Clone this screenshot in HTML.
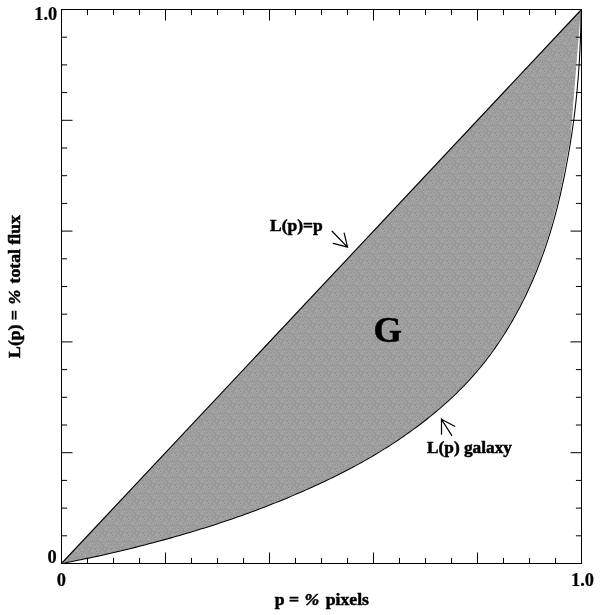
<!DOCTYPE html>
<html><head><meta charset="utf-8"><style>
html,body{margin:0;padding:0;background:#fff;}
svg{display:block;filter:grayscale(1);}
text{font-family:"Liberation Serif",serif;font-weight:bold;fill:#000;stroke:#000;stroke-width:0.5px;}
text.n{stroke-width:0.2px;}
</style></head><body>
<svg width="600" height="615" viewBox="0 0 600 615">
<defs><pattern id="dz" patternUnits="userSpaceOnUse" width="16" height="16"><rect width="16" height="16" fill="#9e9e9e"/><rect x="0" y="0" width="1" height="1" fill="#acacac"/><rect x="1" y="0" width="1" height="1" fill="#8c8c8c"/><rect x="2" y="0" width="1" height="1" fill="#a1a1a1"/><rect x="3" y="0" width="1" height="1" fill="#9a9a9a"/><rect x="4" y="0" width="1" height="1" fill="#9b9b9b"/><rect x="5" y="0" width="1" height="1" fill="#9c9c9c"/><rect x="6" y="0" width="1" height="1" fill="#909090"/><rect x="7" y="0" width="1" height="1" fill="#9c9c9c"/><rect x="8" y="0" width="1" height="1" fill="#989898"/><rect x="9" y="0" width="1" height="1" fill="#b5b5b5"/><rect x="10" y="0" width="1" height="1" fill="#9f9f9f"/><rect x="11" y="0" width="1" height="1" fill="#9b9b9b"/><rect x="12" y="0" width="1" height="1" fill="#9c9c9c"/><rect x="13" y="0" width="1" height="1" fill="#999999"/><rect x="14" y="0" width="1" height="1" fill="#969696"/><rect x="15" y="0" width="1" height="1" fill="#9b9b9b"/><rect x="0" y="1" width="1" height="1" fill="#a1a1a1"/><rect x="1" y="1" width="1" height="1" fill="#9c9c9c"/><rect x="2" y="1" width="1" height="1" fill="#a5a5a5"/><rect x="3" y="1" width="1" height="1" fill="#9c9c9c"/><rect x="5" y="1" width="1" height="1" fill="#a9a9a9"/><rect x="6" y="1" width="1" height="1" fill="#a2a2a2"/><rect x="7" y="1" width="1" height="1" fill="#9a9a9a"/><rect x="8" y="1" width="1" height="1" fill="#9d9d9d"/><rect x="9" y="1" width="1" height="1" fill="#a2a2a2"/><rect x="10" y="1" width="1" height="1" fill="#ababab"/><rect x="11" y="1" width="1" height="1" fill="#9c9c9c"/><rect x="12" y="1" width="1" height="1" fill="#9c9c9c"/><rect x="13" y="1" width="1" height="1" fill="#a5a5a5"/><rect x="14" y="1" width="1" height="1" fill="#989898"/><rect x="15" y="1" width="1" height="1" fill="#9c9c9c"/><rect x="0" y="2" width="1" height="1" fill="#a4a4a4"/><rect x="1" y="2" width="1" height="1" fill="#a2a2a2"/><rect x="2" y="2" width="1" height="1" fill="#9f9f9f"/><rect x="3" y="2" width="1" height="1" fill="#a3a3a3"/><rect x="4" y="2" width="1" height="1" fill="#8a8a8a"/><rect x="5" y="2" width="1" height="1" fill="#a5a5a5"/><rect x="6" y="2" width="1" height="1" fill="#979797"/><rect x="7" y="2" width="1" height="1" fill="#929292"/><rect x="8" y="2" width="1" height="1" fill="#a0a0a0"/><rect x="9" y="2" width="1" height="1" fill="#a3a3a3"/><rect x="10" y="2" width="1" height="1" fill="#9b9b9b"/><rect x="11" y="2" width="1" height="1" fill="#969696"/><rect x="13" y="2" width="1" height="1" fill="#9d9d9d"/><rect x="14" y="2" width="1" height="1" fill="#a8a8a8"/><rect x="15" y="2" width="1" height="1" fill="#a3a3a3"/><rect x="0" y="3" width="1" height="1" fill="#9f9f9f"/><rect x="1" y="3" width="1" height="1" fill="#a6a6a6"/><rect x="2" y="3" width="1" height="1" fill="#9c9c9c"/><rect x="3" y="3" width="1" height="1" fill="#979797"/><rect x="4" y="3" width="1" height="1" fill="#a2a2a2"/><rect x="5" y="3" width="1" height="1" fill="#a2a2a2"/><rect x="6" y="3" width="1" height="1" fill="#9c9c9c"/><rect x="7" y="3" width="1" height="1" fill="#989898"/><rect x="8" y="3" width="1" height="1" fill="#9f9f9f"/><rect x="9" y="3" width="1" height="1" fill="#8c8c8c"/><rect x="10" y="3" width="1" height="1" fill="#a3a3a3"/><rect x="11" y="3" width="1" height="1" fill="#a1a1a1"/><rect x="12" y="3" width="1" height="1" fill="#929292"/><rect x="14" y="3" width="1" height="1" fill="#979797"/><rect x="15" y="3" width="1" height="1" fill="#a3a3a3"/><rect x="0" y="4" width="1" height="1" fill="#909090"/><rect x="1" y="4" width="1" height="1" fill="#979797"/><rect x="2" y="4" width="1" height="1" fill="#a3a3a3"/><rect x="3" y="4" width="1" height="1" fill="#a6a6a6"/><rect x="4" y="4" width="1" height="1" fill="#8f8f8f"/><rect x="5" y="4" width="1" height="1" fill="#9a9a9a"/><rect x="6" y="4" width="1" height="1" fill="#a0a0a0"/><rect x="7" y="4" width="1" height="1" fill="#9a9a9a"/><rect x="8" y="4" width="1" height="1" fill="#a9a9a9"/><rect x="9" y="4" width="1" height="1" fill="#969696"/><rect x="10" y="4" width="1" height="1" fill="#a0a0a0"/><rect x="11" y="4" width="1" height="1" fill="#979797"/><rect x="12" y="4" width="1" height="1" fill="#a8a8a8"/><rect x="14" y="4" width="1" height="1" fill="#9b9b9b"/><rect x="15" y="4" width="1" height="1" fill="#929292"/><rect x="0" y="5" width="1" height="1" fill="#aaaaaa"/><rect x="1" y="5" width="1" height="1" fill="#a3a3a3"/><rect x="2" y="5" width="1" height="1" fill="#a3a3a3"/><rect x="3" y="5" width="1" height="1" fill="#a6a6a6"/><rect x="4" y="5" width="1" height="1" fill="#a0a0a0"/><rect x="5" y="5" width="1" height="1" fill="#999999"/><rect x="6" y="5" width="1" height="1" fill="#989898"/><rect x="7" y="5" width="1" height="1" fill="#989898"/><rect x="8" y="5" width="1" height="1" fill="#a7a7a7"/><rect x="9" y="5" width="1" height="1" fill="#949494"/><rect x="10" y="5" width="1" height="1" fill="#9a9a9a"/><rect x="11" y="5" width="1" height="1" fill="#9c9c9c"/><rect x="12" y="5" width="1" height="1" fill="#9f9f9f"/><rect x="13" y="5" width="1" height="1" fill="#a2a2a2"/><rect x="14" y="5" width="1" height="1" fill="#959595"/><rect x="15" y="5" width="1" height="1" fill="#929292"/><rect x="1" y="6" width="1" height="1" fill="#a6a6a6"/><rect x="2" y="6" width="1" height="1" fill="#a3a3a3"/><rect x="3" y="6" width="1" height="1" fill="#9f9f9f"/><rect x="4" y="6" width="1" height="1" fill="#9c9c9c"/><rect x="5" y="6" width="1" height="1" fill="#a0a0a0"/><rect x="6" y="6" width="1" height="1" fill="#9c9c9c"/><rect x="7" y="6" width="1" height="1" fill="#a4a4a4"/><rect x="8" y="6" width="1" height="1" fill="#989898"/><rect x="9" y="6" width="1" height="1" fill="#9f9f9f"/><rect x="10" y="6" width="1" height="1" fill="#9d9d9d"/><rect x="11" y="6" width="1" height="1" fill="#a2a2a2"/><rect x="12" y="6" width="1" height="1" fill="#9f9f9f"/><rect x="13" y="6" width="1" height="1" fill="#b0b0b0"/><rect x="14" y="6" width="1" height="1" fill="#a8a8a8"/><rect x="15" y="6" width="1" height="1" fill="#a8a8a8"/><rect x="0" y="7" width="1" height="1" fill="#909090"/><rect x="1" y="7" width="1" height="1" fill="#9b9b9b"/><rect x="2" y="7" width="1" height="1" fill="#9a9a9a"/><rect x="3" y="7" width="1" height="1" fill="#a2a2a2"/><rect x="4" y="7" width="1" height="1" fill="#8e8e8e"/><rect x="5" y="7" width="1" height="1" fill="#a6a6a6"/><rect x="6" y="7" width="1" height="1" fill="#a5a5a5"/><rect x="7" y="7" width="1" height="1" fill="#959595"/><rect x="8" y="7" width="1" height="1" fill="#979797"/><rect x="9" y="7" width="1" height="1" fill="#989898"/><rect x="11" y="7" width="1" height="1" fill="#a2a2a2"/><rect x="12" y="7" width="1" height="1" fill="#acacac"/><rect x="13" y="7" width="1" height="1" fill="#9c9c9c"/><rect x="14" y="7" width="1" height="1" fill="#a3a3a3"/><rect x="15" y="7" width="1" height="1" fill="#9f9f9f"/><rect x="0" y="8" width="1" height="1" fill="#aaaaaa"/><rect x="1" y="8" width="1" height="1" fill="#a3a3a3"/><rect x="2" y="8" width="1" height="1" fill="#a7a7a7"/><rect x="3" y="8" width="1" height="1" fill="#969696"/><rect x="4" y="8" width="1" height="1" fill="#9d9d9d"/><rect x="5" y="8" width="1" height="1" fill="#989898"/><rect x="6" y="8" width="1" height="1" fill="#a8a8a8"/><rect x="7" y="8" width="1" height="1" fill="#a2a2a2"/><rect x="8" y="8" width="1" height="1" fill="#9c9c9c"/><rect x="9" y="8" width="1" height="1" fill="#9b9b9b"/><rect x="10" y="8" width="1" height="1" fill="#a1a1a1"/><rect x="11" y="8" width="1" height="1" fill="#999999"/><rect x="12" y="8" width="1" height="1" fill="#979797"/><rect x="13" y="8" width="1" height="1" fill="#a1a1a1"/><rect x="14" y="8" width="1" height="1" fill="#afafaf"/><rect x="15" y="8" width="1" height="1" fill="#9c9c9c"/><rect x="0" y="9" width="1" height="1" fill="#9a9a9a"/><rect x="1" y="9" width="1" height="1" fill="#969696"/><rect x="2" y="9" width="1" height="1" fill="#959595"/><rect x="3" y="9" width="1" height="1" fill="#a2a2a2"/><rect x="4" y="9" width="1" height="1" fill="#a4a4a4"/><rect x="6" y="9" width="1" height="1" fill="#a0a0a0"/><rect x="7" y="9" width="1" height="1" fill="#9f9f9f"/><rect x="8" y="9" width="1" height="1" fill="#9f9f9f"/><rect x="9" y="9" width="1" height="1" fill="#939393"/><rect x="10" y="9" width="1" height="1" fill="#9b9b9b"/><rect x="11" y="9" width="1" height="1" fill="#9f9f9f"/><rect x="12" y="9" width="1" height="1" fill="#989898"/><rect x="13" y="9" width="1" height="1" fill="#9b9b9b"/><rect x="14" y="9" width="1" height="1" fill="#989898"/><rect x="15" y="9" width="1" height="1" fill="#9c9c9c"/><rect x="0" y="10" width="1" height="1" fill="#a4a4a4"/><rect x="1" y="10" width="1" height="1" fill="#9b9b9b"/><rect x="2" y="10" width="1" height="1" fill="#9d9d9d"/><rect x="3" y="10" width="1" height="1" fill="#a4a4a4"/><rect x="4" y="10" width="1" height="1" fill="#a2a2a2"/><rect x="5" y="10" width="1" height="1" fill="#aaaaaa"/><rect x="6" y="10" width="1" height="1" fill="#8f8f8f"/><rect x="7" y="10" width="1" height="1" fill="#a4a4a4"/><rect x="8" y="10" width="1" height="1" fill="#9a9a9a"/><rect x="9" y="10" width="1" height="1" fill="#9f9f9f"/><rect x="10" y="10" width="1" height="1" fill="#a4a4a4"/><rect x="11" y="10" width="1" height="1" fill="#a5a5a5"/><rect x="12" y="10" width="1" height="1" fill="#a5a5a5"/><rect x="13" y="10" width="1" height="1" fill="#9f9f9f"/><rect x="14" y="10" width="1" height="1" fill="#a9a9a9"/><rect x="15" y="10" width="1" height="1" fill="#9c9c9c"/><rect x="0" y="11" width="1" height="1" fill="#9d9d9d"/><rect x="1" y="11" width="1" height="1" fill="#a3a3a3"/><rect x="2" y="11" width="1" height="1" fill="#9a9a9a"/><rect x="3" y="11" width="1" height="1" fill="#adadad"/><rect x="4" y="11" width="1" height="1" fill="#a5a5a5"/><rect x="5" y="11" width="1" height="1" fill="#adadad"/><rect x="7" y="11" width="1" height="1" fill="#9b9b9b"/><rect x="8" y="11" width="1" height="1" fill="#9f9f9f"/><rect x="9" y="11" width="1" height="1" fill="#a3a3a3"/><rect x="10" y="11" width="1" height="1" fill="#9a9a9a"/><rect x="11" y="11" width="1" height="1" fill="#a1a1a1"/><rect x="13" y="11" width="1" height="1" fill="#a9a9a9"/><rect x="14" y="11" width="1" height="1" fill="#999999"/><rect x="15" y="11" width="1" height="1" fill="#a5a5a5"/><rect x="0" y="12" width="1" height="1" fill="#999999"/><rect x="1" y="12" width="1" height="1" fill="#979797"/><rect x="2" y="12" width="1" height="1" fill="#999999"/><rect x="3" y="12" width="1" height="1" fill="#969696"/><rect x="4" y="12" width="1" height="1" fill="#9f9f9f"/><rect x="5" y="12" width="1" height="1" fill="#a5a5a5"/><rect x="6" y="12" width="1" height="1" fill="#9f9f9f"/><rect x="7" y="12" width="1" height="1" fill="#a2a2a2"/><rect x="8" y="12" width="1" height="1" fill="#a9a9a9"/><rect x="9" y="12" width="1" height="1" fill="#a0a0a0"/><rect x="10" y="12" width="1" height="1" fill="#9f9f9f"/><rect x="11" y="12" width="1" height="1" fill="#9c9c9c"/><rect x="12" y="12" width="1" height="1" fill="#939393"/><rect x="13" y="12" width="1" height="1" fill="#a3a3a3"/><rect x="14" y="12" width="1" height="1" fill="#929292"/><rect x="15" y="12" width="1" height="1" fill="#a2a2a2"/><rect x="1" y="13" width="1" height="1" fill="#a6a6a6"/><rect x="2" y="13" width="1" height="1" fill="#9d9d9d"/><rect x="3" y="13" width="1" height="1" fill="#989898"/><rect x="4" y="13" width="1" height="1" fill="#a0a0a0"/><rect x="5" y="13" width="1" height="1" fill="#9a9a9a"/><rect x="6" y="13" width="1" height="1" fill="#9d9d9d"/><rect x="8" y="13" width="1" height="1" fill="#9d9d9d"/><rect x="9" y="13" width="1" height="1" fill="#9d9d9d"/><rect x="10" y="13" width="1" height="1" fill="#989898"/><rect x="11" y="13" width="1" height="1" fill="#9d9d9d"/><rect x="12" y="13" width="1" height="1" fill="#8f8f8f"/><rect x="13" y="13" width="1" height="1" fill="#9d9d9d"/><rect x="14" y="13" width="1" height="1" fill="#959595"/><rect x="15" y="13" width="1" height="1" fill="#a6a6a6"/><rect x="0" y="14" width="1" height="1" fill="#a7a7a7"/><rect x="1" y="14" width="1" height="1" fill="#909090"/><rect x="2" y="14" width="1" height="1" fill="#9f9f9f"/><rect x="3" y="14" width="1" height="1" fill="#9d9d9d"/><rect x="4" y="14" width="1" height="1" fill="#979797"/><rect x="5" y="14" width="1" height="1" fill="#a2a2a2"/><rect x="6" y="14" width="1" height="1" fill="#9b9b9b"/><rect x="7" y="14" width="1" height="1" fill="#919191"/><rect x="8" y="14" width="1" height="1" fill="#9c9c9c"/><rect x="9" y="14" width="1" height="1" fill="#9d9d9d"/><rect x="10" y="14" width="1" height="1" fill="#9f9f9f"/><rect x="11" y="14" width="1" height="1" fill="#959595"/><rect x="12" y="14" width="1" height="1" fill="#a2a2a2"/><rect x="13" y="14" width="1" height="1" fill="#a3a3a3"/><rect x="14" y="14" width="1" height="1" fill="#969696"/><rect x="15" y="14" width="1" height="1" fill="#999999"/><rect x="0" y="15" width="1" height="1" fill="#9d9d9d"/><rect x="1" y="15" width="1" height="1" fill="#9a9a9a"/><rect x="2" y="15" width="1" height="1" fill="#aaaaaa"/><rect x="3" y="15" width="1" height="1" fill="#9f9f9f"/><rect x="4" y="15" width="1" height="1" fill="#979797"/><rect x="5" y="15" width="1" height="1" fill="#989898"/><rect x="6" y="15" width="1" height="1" fill="#9d9d9d"/><rect x="7" y="15" width="1" height="1" fill="#aeaeae"/><rect x="8" y="15" width="1" height="1" fill="#9d9d9d"/><rect x="9" y="15" width="1" height="1" fill="#9f9f9f"/><rect x="10" y="15" width="1" height="1" fill="#a1a1a1"/><rect x="12" y="15" width="1" height="1" fill="#aeaeae"/><rect x="13" y="15" width="1" height="1" fill="#9a9a9a"/><rect x="14" y="15" width="1" height="1" fill="#a3a3a3"/><rect x="15" y="15" width="1" height="1" fill="#9f9f9f"/></pattern></defs>
<rect width="600" height="615" fill="#fff"/>
<polygon points="61.5,563.5 581.5,9.5 60.90,563.50 71.30,561.49 81.70,559.38 92.10,557.25 102.50,555.03 112.90,552.68 123.30,550.19 133.70,547.61 144.10,544.94 154.50,542.21 164.90,539.39 175.30,536.49 185.70,533.48 196.10,530.36 206.50,527.13 216.90,523.78 227.30,520.30 237.70,516.70 248.10,512.98 258.50,509.11 268.90,505.11 279.30,500.96 289.70,496.66 300.10,492.21 310.50,487.60 320.90,482.81 331.30,477.84 341.70,472.66 352.10,467.25 362.50,461.57 372.90,455.60 383.30,449.30 393.70,442.64 404.10,435.59 414.50,428.13 424.90,420.20 435.30,411.76 445.70,402.73 456.10,393.01 466.50,382.42 476.90,370.78 487.30,357.80 497.70,343.27 508.10,326.97 518.50,308.54 528.90,287.38 539.30,262.51 549.70,232.20 560.10,192.94 570.50,138.15 580.90,9.50" fill="url(#dz)" stroke="none"/>
<g stroke="#000" stroke-width="1.1" fill="none">
<line x1="61.5" y1="563.5" x2="581.5" y2="9.5" stroke-width="1.1"/>
<polyline points="61.50,563.50 64.75,563.02 67.95,562.31 71.16,561.64 74.37,560.98 77.59,560.33 80.81,559.68 84.02,559.03 87.24,558.38 90.45,557.72 93.66,557.05 96.88,556.37 100.08,555.69 103.29,554.99 106.49,554.28 109.70,553.55 112.89,552.82 116.09,552.07 119.28,551.31 122.47,550.54 125.66,549.76 128.84,548.98 132.03,548.18 135.21,547.38 138.39,546.57 141.57,545.75 144.74,544.93 147.92,544.10 151.09,543.27 154.26,542.43 157.43,541.58 160.60,540.73 163.76,539.87 166.92,539.00 170.08,538.13 173.24,537.24 176.40,536.35 179.55,535.44 182.70,534.53 185.85,533.61 189.00,532.68 192.14,531.74 195.28,530.79 198.42,529.83 201.55,528.87 204.68,527.89 207.81,526.90 210.94,525.90 214.06,524.90 217.18,523.88 220.30,522.85 223.41,521.82 226.52,520.77 229.63,519.72 232.73,518.65 235.83,517.57 238.92,516.49 242.02,515.39 245.10,514.28 248.19,513.16 251.27,512.04 254.35,510.90 257.42,509.75 260.49,508.59 263.56,507.42 266.62,506.23 269.67,505.04 272.73,503.84 275.78,502.62 278.82,501.40 281.86,500.16 284.90,498.91 287.93,497.65 290.95,496.39 293.97,495.11 296.99,493.81 300.00,492.51 303.01,491.20 306.01,489.87 309.01,488.54 312.00,487.19 314.99,485.83 317.97,484.46 320.95,483.07 323.92,481.68 326.88,480.27 329.84,478.85 332.79,477.41 335.73,475.96 338.67,474.50 341.60,473.02 344.52,471.53 347.44,470.02 350.35,468.50 353.24,466.96 356.13,465.41 359.02,463.84 361.89,462.25 364.75,460.65 367.60,459.03 370.45,457.39 373.28,455.73 376.10,454.06 378.91,452.36 381.71,450.65 384.50,448.92 387.28,447.18 390.04,445.41 392.79,443.63 395.53,441.82 398.26,440.00 400.98,438.16 403.68,436.30 406.37,434.43 409.04,432.53 411.70,430.62 414.35,428.68 416.98,426.73 419.60,424.76 422.21,422.77 424.80,420.76 427.37,418.73 429.93,416.68 432.47,414.61 435.00,412.52 437.51,410.41 440.00,408.28 442.48,406.13 444.93,403.96 447.37,401.77 449.79,399.55 452.19,397.32 454.57,395.06 456.93,392.78 459.27,390.48 461.58,388.16 463.88,385.81 466.15,383.44 468.39,381.05 470.61,378.63 472.81,376.19 474.97,373.72 477.12,371.24 479.23,368.72 481.32,366.19 483.37,363.63 485.41,361.05 487.41,358.45 489.39,355.83 491.34,353.19 493.26,350.53 495.16,347.85 497.03,345.15 498.87,342.43 500.69,339.70 502.48,336.95 504.25,334.19 505.99,331.40 507.71,328.61 509.41,325.80 511.08,322.97 512.72,320.13 514.34,317.27 515.94,314.40 517.51,311.52 519.05,308.63 520.58,305.72 522.08,302.80 523.55,299.86 525.00,296.92 526.43,293.96 527.83,291.00 529.21,288.02 530.57,285.03 531.90,282.03 533.21,279.02 534.49,276.00 535.76,272.97 536.99,269.93 538.21,266.88 539.40,263.82 540.57,260.75 541.72,257.68 542.84,254.59 543.95,251.50 545.03,248.41 546.09,245.30 547.13,242.19 548.14,239.07 549.14,235.94 550.12,232.81 551.07,229.67 552.01,226.52 552.92,223.37 553.82,220.22 554.69,217.06 555.54,213.89 556.38,210.72 557.20,207.54 557.99,204.36 558.77,201.18 559.54,197.99 560.28,194.79 561.01,191.60 561.72,188.40 562.41,185.19 563.09,181.98 563.76,178.78 564.41,175.56 565.05,172.35 565.68,169.13 566.29,165.91 566.89,162.69 567.49,159.47 568.07,156.24 568.63,153.02 569.19,149.79 569.74,146.56 570.27,143.32 570.79,140.09 571.30,136.85 571.80,133.61 572.28,130.37 572.76,127.13 573.21,123.88 573.65,120.64 574.08,117.39 574.50,114.14 574.90,110.88 575.28,107.63 575.65,104.37 576.01,101.11 576.35,97.85 576.68,94.59 577.00,91.33 577.30,88.07 577.59,84.80 577.87,81.54 578.14,78.27 578.39,75.00 578.63,71.73 578.86,68.47 579.08,65.19 579.29,61.92 579.49,58.65 579.67,55.38 579.85,52.11 580.01,48.83 580.16,45.56 580.30,42.28 580.43,39.01 580.55,35.73 580.65,32.45 580.75,29.17 580.83,25.90 580.90,22.62 580.96,19.34 581.01,16.06 581.05,12.78 581.50,9.50" stroke-width="1.05"/>
</g>
<g stroke="#000" stroke-width="1" fill="none">
<rect x="61.5" y="9.5" width="520.0" height="554.0"/>
<line x1="87.50" y1="9.5" x2="87.50" y2="15.1"/>
<line x1="87.50" y1="563.5" x2="87.50" y2="557.9"/>
<line x1="61.5" y1="535.80" x2="67.1" y2="535.80"/>
<line x1="581.5" y1="535.80" x2="575.9" y2="535.80"/>
<line x1="113.50" y1="9.5" x2="113.50" y2="15.1"/>
<line x1="113.50" y1="563.5" x2="113.50" y2="557.9"/>
<line x1="61.5" y1="508.10" x2="67.1" y2="508.10"/>
<line x1="581.5" y1="508.10" x2="575.9" y2="508.10"/>
<line x1="139.50" y1="9.5" x2="139.50" y2="15.1"/>
<line x1="139.50" y1="563.5" x2="139.50" y2="557.9"/>
<line x1="61.5" y1="480.40" x2="67.1" y2="480.40"/>
<line x1="581.5" y1="480.40" x2="575.9" y2="480.40"/>
<line x1="165.50" y1="9.5" x2="165.50" y2="20.5"/>
<line x1="165.50" y1="563.5" x2="165.50" y2="552.5"/>
<line x1="61.5" y1="452.70" x2="72.5" y2="452.70"/>
<line x1="581.5" y1="452.70" x2="570.5" y2="452.70"/>
<line x1="191.50" y1="9.5" x2="191.50" y2="15.1"/>
<line x1="191.50" y1="563.5" x2="191.50" y2="557.9"/>
<line x1="61.5" y1="425.00" x2="67.1" y2="425.00"/>
<line x1="581.5" y1="425.00" x2="575.9" y2="425.00"/>
<line x1="217.50" y1="9.5" x2="217.50" y2="15.1"/>
<line x1="217.50" y1="563.5" x2="217.50" y2="557.9"/>
<line x1="61.5" y1="397.30" x2="67.1" y2="397.30"/>
<line x1="581.5" y1="397.30" x2="575.9" y2="397.30"/>
<line x1="243.50" y1="9.5" x2="243.50" y2="15.1"/>
<line x1="243.50" y1="563.5" x2="243.50" y2="557.9"/>
<line x1="61.5" y1="369.60" x2="67.1" y2="369.60"/>
<line x1="581.5" y1="369.60" x2="575.9" y2="369.60"/>
<line x1="269.50" y1="9.5" x2="269.50" y2="20.5"/>
<line x1="269.50" y1="563.5" x2="269.50" y2="552.5"/>
<line x1="61.5" y1="341.90" x2="72.5" y2="341.90"/>
<line x1="581.5" y1="341.90" x2="570.5" y2="341.90"/>
<line x1="295.50" y1="9.5" x2="295.50" y2="15.1"/>
<line x1="295.50" y1="563.5" x2="295.50" y2="557.9"/>
<line x1="61.5" y1="314.20" x2="67.1" y2="314.20"/>
<line x1="581.5" y1="314.20" x2="575.9" y2="314.20"/>
<line x1="321.50" y1="9.5" x2="321.50" y2="15.1"/>
<line x1="321.50" y1="563.5" x2="321.50" y2="557.9"/>
<line x1="61.5" y1="286.50" x2="67.1" y2="286.50"/>
<line x1="581.5" y1="286.50" x2="575.9" y2="286.50"/>
<line x1="347.50" y1="9.5" x2="347.50" y2="15.1"/>
<line x1="347.50" y1="563.5" x2="347.50" y2="557.9"/>
<line x1="61.5" y1="258.80" x2="67.1" y2="258.80"/>
<line x1="581.5" y1="258.80" x2="575.9" y2="258.80"/>
<line x1="373.50" y1="9.5" x2="373.50" y2="20.5"/>
<line x1="373.50" y1="563.5" x2="373.50" y2="552.5"/>
<line x1="61.5" y1="231.10" x2="72.5" y2="231.10"/>
<line x1="581.5" y1="231.10" x2="570.5" y2="231.10"/>
<line x1="399.50" y1="9.5" x2="399.50" y2="15.1"/>
<line x1="399.50" y1="563.5" x2="399.50" y2="557.9"/>
<line x1="61.5" y1="203.40" x2="67.1" y2="203.40"/>
<line x1="581.5" y1="203.40" x2="575.9" y2="203.40"/>
<line x1="425.50" y1="9.5" x2="425.50" y2="15.1"/>
<line x1="425.50" y1="563.5" x2="425.50" y2="557.9"/>
<line x1="61.5" y1="175.70" x2="67.1" y2="175.70"/>
<line x1="581.5" y1="175.70" x2="575.9" y2="175.70"/>
<line x1="451.50" y1="9.5" x2="451.50" y2="15.1"/>
<line x1="451.50" y1="563.5" x2="451.50" y2="557.9"/>
<line x1="61.5" y1="148.00" x2="67.1" y2="148.00"/>
<line x1="581.5" y1="148.00" x2="575.9" y2="148.00"/>
<line x1="477.50" y1="9.5" x2="477.50" y2="20.5"/>
<line x1="477.50" y1="563.5" x2="477.50" y2="552.5"/>
<line x1="61.5" y1="120.30" x2="72.5" y2="120.30"/>
<line x1="581.5" y1="120.30" x2="570.5" y2="120.30"/>
<line x1="503.50" y1="9.5" x2="503.50" y2="15.1"/>
<line x1="503.50" y1="563.5" x2="503.50" y2="557.9"/>
<line x1="61.5" y1="92.60" x2="67.1" y2="92.60"/>
<line x1="581.5" y1="92.60" x2="575.9" y2="92.60"/>
<line x1="529.50" y1="9.5" x2="529.50" y2="15.1"/>
<line x1="529.50" y1="563.5" x2="529.50" y2="557.9"/>
<line x1="61.5" y1="64.90" x2="67.1" y2="64.90"/>
<line x1="581.5" y1="64.90" x2="575.9" y2="64.90"/>
<line x1="555.50" y1="9.5" x2="555.50" y2="15.1"/>
<line x1="555.50" y1="563.5" x2="555.50" y2="557.9"/>
<line x1="61.5" y1="37.20" x2="67.1" y2="37.20"/>
<line x1="581.5" y1="37.20" x2="575.9" y2="37.20"/>
</g>
<g stroke="#000" stroke-width="1.25" fill="none" stroke-linecap="round">
<path d="M332.1,231.3 L347.5,247.1 M344.2,233.2 L347.5,247.1 L333.3,243.3"/>
<path d="M451.7,435.4 L441.5,419.3 L441.5,434.2 M441.5,419.3 L454.6,426.3"/>
</g>
<text class="n" transform="translate(34.3,19.6) scale(0.96,1)" font-size="19.2">1.0</text>
<text class="n" transform="translate(47.6,563.4) scale(0.96,1)" font-size="19.2">0</text>
<text class="n" transform="translate(56.7,585.6) scale(0.96,1)" font-size="19.2">0</text>
<text class="n" transform="translate(571,586) scale(0.96,1)" font-size="19.2">1.0</text>
<text x="274.8" y="604.5" font-size="17.7">p = <tspan font-style="italic" dx="1">%</tspan><tspan dx="2"> pixels</tspan></text>
<text transform="translate(19.9,357.9) rotate(-90)" font-size="17.7">L(p) = <tspan font-style="italic" dx="1">%</tspan><tspan dx="2"> total flux</tspan></text>
<text x="270" y="230.8" font-size="17.5">L(p)=p</text>
<text x="427" y="452.5" font-size="17.3">L(p) galaxy</text>
<text x="373.5" y="342" font-size="36.5">G</text>
</svg>
</body></html>
